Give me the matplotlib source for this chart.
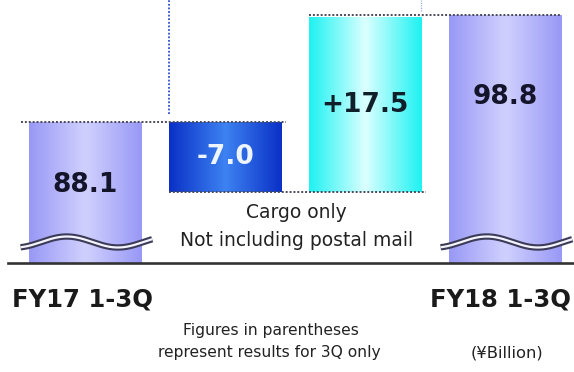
import numpy as np
import matplotlib.pyplot as plt
from matplotlib.colors import LinearSegmentedColormap

# waterfall: FY17 1-3Q -> FY18 1-3Q (cargo revenue, ¥Billion)
steps = ['FY17 1-3Q', 'Change A', 'Change B', 'FY18 1-3Q']
start_value = 88.1
changes = [-7.0, 17.5]
end_value = 98.8
value_labels = ['88.1', '-7.0', '+17.5', '98.8']
note_lines = ['Cargo only', 'Not including postal mail']
footnote = ['Figures in parentheses', 'represent results for 3Q only']
unit_label = '(¥Billion)'

y_floor, y_top = 74.0, 100.3
bar_w = 0.807

fig = plt.figure(figsize=(5.74, 3.72), dpi=100)
ax = fig.add_axes([0, 109 / 372, 1, 263 / 372])
ax.set_xlim(-85 / 140, 489 / 140)
ax.set_ylim(y_floor, y_top)
for side in ['top', 'left', 'right']:
    ax.spines[side].set_visible(False)
ax.spines['bottom'].set_bounds(-0.55, 489 / 140)
ax.spines['bottom'].set_linewidth(1.9)
ax.spines['bottom'].set_color('#333333')
ax.set_xticks([])
ax.set_yticks([])


def grad_bar(x, y0, y1, edge, mid):
    cmap = LinearSegmentedColormap.from_list('g', [edge, mid, edge])
    g = np.linspace(0, 1, 256).reshape(1, -1)
    ax.imshow(g, cmap=cmap, aspect='auto', interpolation='bicubic',
              extent=[x - bar_w / 2, x + bar_w / 2, y0, y1], zorder=2)


after_drop = start_value + changes[0]
after_rise = after_drop + changes[1]

grad_bar(0, y_floor, start_value, '#9898f6', '#d0d0fe')
grad_bar(1, after_drop, start_value, '#0a30c6', '#3d82f2')
grad_bar(2, after_drop, after_rise, '#1ef2f2', '#dcffff')
grad_bar(3, y_floor, end_value, '#9898f6', '#d0d0fe')

# dotted connectors between the running totals
dot = dict(color='#4a4a5a', lw=1.4, ls=(0, (1, 1)), zorder=3)
ax.plot([-0.46, 1 + bar_w / 2 + 0.03], [start_value] * 2, **dot)
ax.plot([1 - bar_w / 2, 2 + bar_w / 2 + 0.03], [after_drop] * 2, **dot)
ax.plot([2 - bar_w / 2, 3 + bar_w / 2], [end_value] * 2, **dot)

# thin blue guide lines above the change bars
ax.plot([1 - bar_w / 2] * 2, [start_value + 0.8, y_top], color='#3050d0',
        lw=1.3, ls=(0, (1, 1)), zorder=3)
ax.plot([2 + bar_w / 2] * 2, [end_value + 0.4, y_top], color='#9ab0e0',
        lw=0.9, ls=(0, (1, 1)), zorder=3)

# axis-break waves on the total bars
for cx in [0, 3]:
    xs = np.linspace(cx - 0.46, cx + 0.48, 200)
    ys = 76.1 + 0.55 * np.cos(2 * np.pi * (xs - (cx - 0.13)) / 0.73)
    ax.plot(xs, ys, color='#3c3c58', lw=4.6, solid_capstyle='butt', zorder=4)
    ax.plot(xs, ys, color='#f4f4ff', lw=1.6, solid_capstyle='butt', zorder=5)

big = dict(fontsize=19, fontweight='bold', ha='center', va='center', zorder=6)
ax.text(0, 81.8, value_labels[0], color='#14142a', **big)
ax.text(1, (start_value + after_drop) / 2, value_labels[1], color='#eef5ff', **big)
ax.text(2, (after_drop + after_rise) / 2, value_labels[2], color='#10202a', **big)
ax.text(3, 90.6, value_labels[3], color='#14142a', **big)


def ftext(px, py, s, **kw):
    fig.text(px / 574, 1 - py / 372, s, **kw)


ftext(296, 212, note_lines[0], fontsize=13.5, ha='center', va='center', color='#222222')
ftext(297, 241, note_lines[1], fontsize=13.5, ha='center', va='center', color='#222222')

lab = dict(fontsize=17.5, fontweight='bold', va='center', color='#1a1a1a')
ftext(83, 300, steps[0], ha='center', **lab)
ftext(501, 300, steps[3], ha='center', **lab)

ftext(271, 330, footnote[0], fontsize=11.2, ha='center', va='center', color='#222222')
ftext(269, 352, footnote[1], fontsize=11.2, ha='center', va='center', color='#222222')
ftext(507, 353, unit_label, fontsize=11.8, ha='center', va='center', color='#222222')

fig.savefig('out.png', dpi=100)
